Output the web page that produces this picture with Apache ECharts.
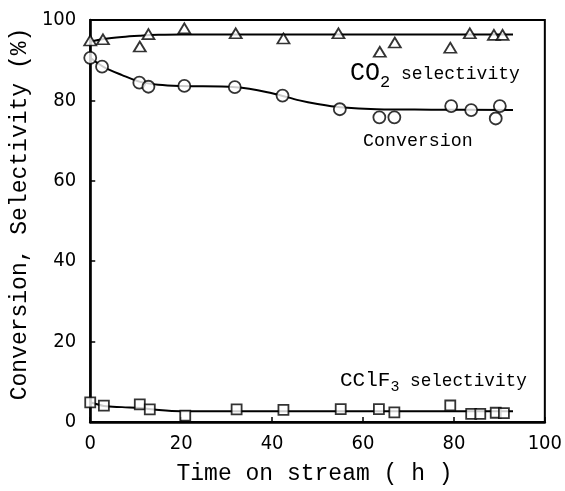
<!DOCTYPE html>
<html>
<head>
<meta charset="utf-8">
<script src="https://cdn.jsdelivr.net/npm/echarts@6/dist/echarts.min.js"></script>
<style>html,body{margin:0;padding:0;background:#fff}#c{width:565px;height:491px}</style>
</head>
<body>
<div id="c"></div>
<script>
// ---- data ----
var xTicks = [0, 20, 40, 60, 80, 100];
var yTicks = [0, 20, 40, 60, 80, 100];

// CO2 selectivity (triangles)
var co2Time = [0, 2.8, 10.9, 12.8, 20.7, 32, 42.5, 54.6, 63.7, 67, 79.2, 83.5, 88.8, 90.7];
var co2Sel  = [94.9, 95.2, 93.4, 96.5, 97.9, 96.7, 95.4, 96.7, 92.1, 94.4, 93.1, 96.7, 96.3, 96.3];
var co2FitTime = [0, 3, 7, 11, 15, 20, 30, 45, 60, 75, 93];
var co2FitVal  = [94.6, 95.3, 95.8, 96.1, 96.3, 96.4, 96.4, 96.4, 96.4, 96.4, 96.4];

// Conversion (circles)
var convTime = [0, 2.6, 10.8, 12.8, 20.7, 31.8, 42.3, 54.9, 63.6, 66.9, 79.4, 83.8, 89.2, 90.1];
var convVal  = [90.6, 88.4, 84.4, 83.4, 83.6, 83.3, 81.2, 77.8, 75.8, 75.8, 78.6, 77.6, 75.5, 78.6];
var convFitTime = [0, 3, 7, 11, 15, 20, 32, 40, 46, 50, 55, 63, 75, 93];
var convFitVal  = [90.6, 88.3, 86.3, 84.6, 83.9, 83.6, 83.3, 81.8, 80.0, 79.1, 78.3, 77.8, 77.7, 77.6];

// CClF3 selectivity (squares)
var cclTime = [0, 3, 10.9, 13.1, 20.9, 32.2, 42.5, 55.1, 63.5, 66.9, 79.2, 83.8, 85.8, 89.2, 91];
var cclSel  = [4.9, 4.06, 4.4, 3.15, 1.57, 3.15, 3.0, 3.2, 3.2, 2.4, 4.1, 2.0, 2.0, 2.3, 2.2];
var cclFitTime = [0, 3, 7, 11, 14, 20, 30, 50, 70, 93];
var cclFitVal  = [4.9, 4.0, 3.7, 3.5, 3.1, 2.7, 2.7, 2.7, 2.7, 2.7];

function pairs(xs, ys) { return xs.map(function (x, i) { return [x, ys[i]]; }); }

var mono = '"Liberation Mono","DejaVu Sans Mono",monospace';
var narrow = '"Liberation Sans Narrow","DejaVu Sans Condensed","Liberation Sans",sans-serif';

var chart = echarts.init(document.getElementById('c'), null, {renderer: 'canvas'});

function fitLine(data) {
  return {type: 'line', data: data, smooth: 0.35, showSymbol: false, symbol: 'none',
    lineStyle: {color: '#000', width: 2}, z: 2, silent: true};
}
function pts(data, sym, size) {
  return {type: 'scatter', data: data, symbol: sym, symbolSize: size,
    itemStyle: {color: '#fff', borderColor: '#000', borderWidth: 1.8}, z: 3, silent: true};
}

chart.setOption({
  animation: false,
  backgroundColor: '#fff',
  grid: {left: 88, right: 15, top: 20, bottom: 69, show: true, borderColor: '#000', borderWidth: 2, containLabel: false},
  xAxis: {
    type: 'value', min: 0, max: 100, interval: 20,
    name: 'Time on stream ( h )', nameLocation: 'middle', nameGap: 40,
    nameTextStyle: {fontFamily: mono, fontSize: 23, color: '#000', padding: [0, 6, 0, 0]},
    axisLine: {show: true, lineStyle: {color: '#000', width: 2.5}},
    axisTick: {show: true, inside: true, length: 5, lineStyle: {color: '#000', width: 1.5}},
    axisLabel: {fontFamily: narrow, fontSize: 20, color: '#000', margin: 12,
      formatter: function (v) { return xTicks.indexOf(v) >= 0 ? String(v) : ''; }},
    splitLine: {show: false}
  },
  yAxis: {
    type: 'value', min: 0, max: 100, interval: 20,
    name: 'Conversion, Selectivity (%)', nameLocation: 'middle', nameGap: 55,
    nameTextStyle: {fontFamily: mono, fontSize: 23, color: '#000', padding: [0, 0, 0, 14]},
    axisLine: {show: true, lineStyle: {color: '#000', width: 2.5}},
    axisTick: {show: true, inside: true, length: 5, lineStyle: {color: '#000', width: 1.5}},
    axisLabel: {fontFamily: narrow, fontSize: 20, color: '#000', margin: 14,
      formatter: function (v) { return yTicks.indexOf(v) >= 0 ? String(v) : ''; }},
    splitLine: {show: false}
  },
  series: [
    fitLine(pairs(co2FitTime, co2FitVal)),
    fitLine(pairs(convFitTime, convFitVal)),
    fitLine(pairs(cclFitTime, cclFitVal)),
    pts(pairs(co2Time, co2Sel), 'triangle', [12, 10]),
    pts(pairs(convTime, convVal), 'circle', 12),
    pts(pairs(cclTime, cclSel), 'rect', 10)
  ],
  graphic: [
    {type: 'text', x: 350, y: 59, z: 10, style: {
      text: '{a|CO}{b|2}{c| selectivity}', fill: '#000',
      rich: {
        a: {fontFamily: mono, fontSize: 25, lineHeight: 32, verticalAlign: 'top', padding: [2, 0, 0, 0]},
        b: {fontFamily: mono, fontSize: 17, lineHeight: 32, verticalAlign: 'bottom', padding: [0, 0, 0, 0]},
        c: {fontFamily: mono, fontSize: 18, lineHeight: 32, verticalAlign: 'top', padding: [6, 0, 0, 0]}
      }}},
    {type: 'text', x: 363, y: 132, z: 10, style: {text: 'Conversion', fill: '#000', fontFamily: mono, fontSize: 18.3}},
    {type: 'text', x: 340, y: 369, z: 10, style: {
      text: '{a|CClF}{b|3}{c| selectivity}', fill: '#000',
      rich: {
        a: {fontFamily: mono, fontSize: 21, lineHeight: 26, verticalAlign: 'top', padding: [1, 0, 0, 0]},
        b: {fontFamily: mono, fontSize: 15, lineHeight: 26, verticalAlign: 'bottom'},
        c: {fontFamily: mono, fontSize: 17.7, lineHeight: 26, verticalAlign: 'top', padding: [3, 0, 0, 0]}
      }}}
  ]
});
</script>
</body>
</html>
